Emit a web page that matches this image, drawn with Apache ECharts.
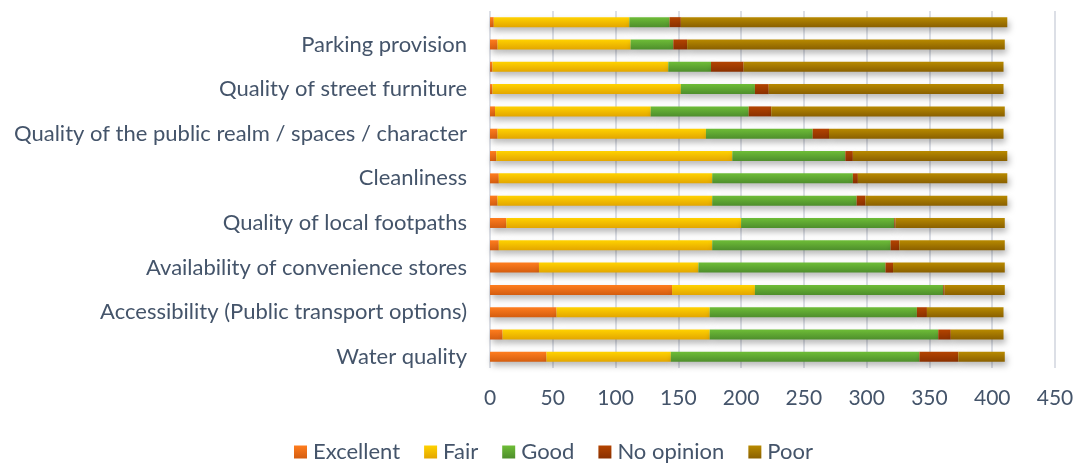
<!DOCTYPE html>
<html>
<head>
<meta charset="utf-8">
<script src="https://cdn.jsdelivr.net/npm/echarts@6/dist/echarts.min.js"></script>
<style>
  html, body { margin: 0; padding: 0; background: #fff; }
  #chart { width: 1078px; height: 466px; }
</style>
</head>
<body>
<div id="chart"></div>
<script>
// Survey items, bottom to top; only every other row carries a label
const categories = [
  'Water quality', '',
  'Accessibility (Public transport options)', '',
  'Availability of convenience stores', '',
  'Quality of local footpaths', '',
  'Cleanliness', '',
  'Quality of the public realm / spaces / character', '',
  'Quality of street furniture', '',
  'Parking provision', ''
];

// Response counts per rating, same order as categories
const excellent = [45, 10, 53, 145, 39, 7, 13, 6, 7, 5, 6, 4, 2, 2, 6, 3];
const fair      = [99, 165, 122, 66, 127, 170, 187, 171, 170, 188, 166, 124, 150, 140, 106, 108];
const good      = [198, 182, 165, 150, 149, 142, 122, 115, 112, 90, 85, 78, 59, 34, 34, 32];
const noOpinion = [31, 10, 8, 1, 6, 7, 1, 7, 4, 6, 13, 18, 11, 26, 11, 9];
const poor      = [37, 42, 61, 48, 89, 84, 87, 113, 119, 123, 139, 186, 187, 207, 253, 260];

const xTicks = { min: 0, max: 450, step: 50 };

function grad(top, bottom) {
  return new echarts.graphic.LinearGradient(0, 0, 0, 1, [
    { offset: 0, color: top },
    { offset: 1, color: bottom }
  ]);
}

const textColor = '#44546A';
const fontFamily = 'Lato, "Open Sans", sans-serif';

const seriesDefs = [
  { name: 'Excellent',  data: excellent, top: '#FF7D1E', bottom: '#D45D10' },
  { name: 'Fair',       data: fair,      top: '#FFD200', bottom: '#E3A600' },
  { name: 'Good',       data: good,      top: '#6EBD37', bottom: '#4E8E2C' },
  { name: 'No opinion', data: noOpinion, top: '#B44400', bottom: '#8A3000' },
  { name: 'Poor',       data: poor,      top: '#B88A00', bottom: '#8A6000' }
];

const chart = echarts.init(document.getElementById('chart'), null, { renderer: 'canvas' });

chart.setOption({
  animation: false,
  backgroundColor: '#ffffff',
  grid: { left: 490, right: 23, top: 11, bottom: 98, containLabel: false },
  legend: {
    left: 294,
    top: 441,
    padding: 0,
    icon: 'rect',
    itemWidth: 13,
    itemHeight: 13,
    itemGap: 24,
    textStyle: { color: textColor, fontSize: 22, fontFamily: fontFamily, padding: [0, 0, 0, 1] },
    data: seriesDefs.map(s => s.name)
  },
  xAxis: {
    type: 'value',
    min: xTicks.min,
    max: xTicks.max,
    interval: xTicks.step,
    axisLine: { show: false },
    axisTick: { show: false },
    axisLabel: { color: textColor, fontSize: 21, fontFamily: fontFamily, margin: 20 },
    splitLine: { show: true, lineStyle: { color: '#DCDFE6', width: 2 } }
  },
  yAxis: {
    type: 'category',
    data: categories,
    axisLine: { show: false },
    axisTick: { show: false },
    axisLabel: { interval: 0, color: textColor, fontSize: 22, fontFamily: fontFamily, margin: 23 }
  },
  series: seriesDefs.map(s => ({
    name: s.name,
    type: 'bar',
    stack: 'total',
    barWidth: 10,
    data: s.data,
    itemStyle: {
      color: grad(s.top, s.bottom),
      shadowColor: 'rgba(0,0,0,0.28)',
      shadowBlur: 6,
      shadowOffsetX: 2,
      shadowOffsetY: 4
    }
  }))
});
</script>
</body>
</html>
